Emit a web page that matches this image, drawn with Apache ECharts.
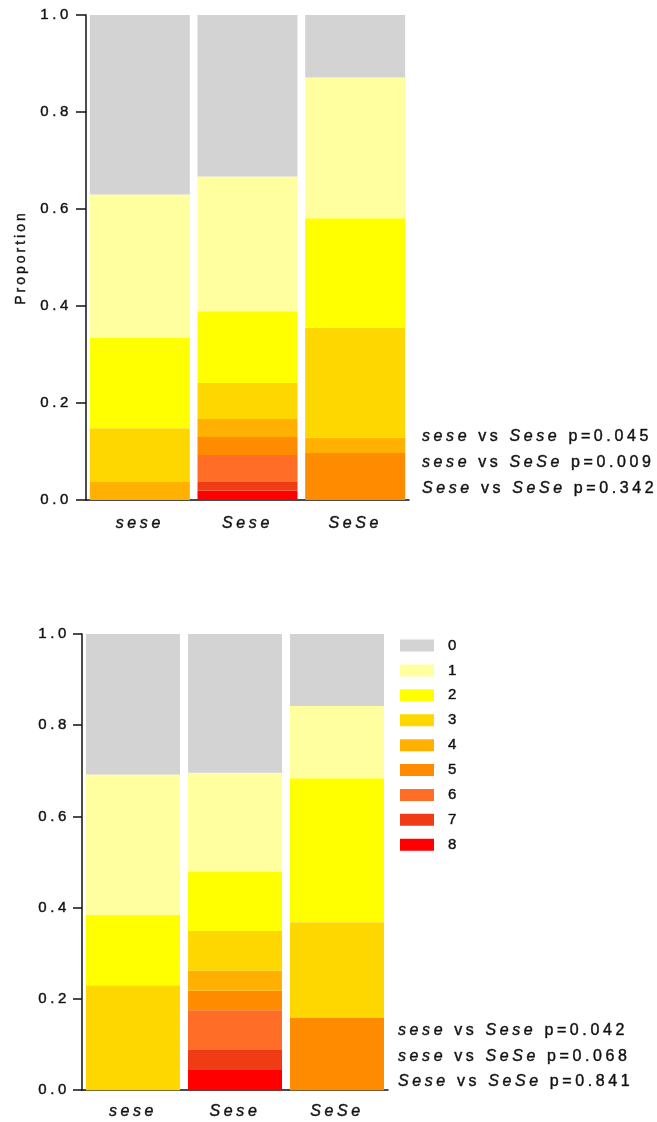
<!DOCTYPE html>
<html>
<head>
<meta charset="utf-8">
<script src="https://cdn.jsdelivr.net/npm/echarts@6/dist/echarts.min.js"></script>
<style>
  html, body { margin: 0; padding: 0; background: #fff; }
  #chart { width: 657px; height: 1122px; }
</style>
</head>
<body>
<div id="chart"></div>
<script>
// Genotype groups on the x axis
const genotypes = ['sese', 'Sese', 'SeSe'];
// Score levels (stack order: 0 on top, 8 at the bottom)
const levels = ['0', '1', '2', '3', '4', '5', '6', '7', '8'];
const levelColors = ['#D3D3D3', '#FFFF9F', '#FFFF00', '#FFD700', '#FFB000', '#FF8C00', '#FF6D27', '#F03C14', '#FF0000'];
const yTicks = [0, 0.2, 0.4, 0.6, 0.8, 1.0];

// Upper panel: proportion of each level per genotype (levels 0..8)
const upperSese_lc = [0.370, 0.296, 0.186, 0.111, 0.037, 0, 0, 0, 0];
const upperSese_het = [0.333, 0.278, 0.148, 0.074, 0.037, 0.037, 0.056, 0.018, 0.019];
const upperSeSe = [0.129, 0.290, 0.226, 0.226, 0.032, 0.097, 0, 0, 0];

// Lower panel
const lowerSese_lc = [0.308, 0.308, 0.154, 0.230, 0, 0, 0, 0, 0];
const lowerSese_het = [0.304, 0.217, 0.130, 0.087, 0.044, 0.043, 0.087, 0.044, 0.044];
const lowerSeSe = [0.158, 0.158, 0.316, 0.210, 0, 0.158, 0, 0, 0];

// Pairwise comparisons and p-values
const comparisons = [['sese', 'Sese'], ['sese', 'SeSe'], ['Sese', 'SeSe']];
const upperP = ['0.045', '0.009', '0.342'];
const lowerP = ['0.042', '0.068', '0.841'];

// Tracked-out lettering for all canvas text
(function () {
  const proto = CanvasRenderingContext2D.prototype;
  if (!('letterSpacing' in proto)) return;
  const spacingFor = function (font) {
    const m = /([\d.]+)px/.exec(font || '');
    const size = m ? parseFloat(m[1]) : 15;
    return size < 14.5 ? '3px' : '3.6px';
  };
  ['fillText', 'strokeText', 'measureText'].forEach(function (fn) {
    const orig = proto[fn];
    proto[fn] = function () {
      this.letterSpacing = spacingFor(this.font);
      return orig.apply(this, arguments);
    };
  });
})();

const FONT = 'Liberation Sans';
const TEXT = '#111';
const AXIS = '#111';
// slight outline in a dark grey to give the lettering more weight
const OUTLINE = '#444';
const OUTLINE_W = 0.5;
const INK = { textBorderColor: OUTLINE, textBorderWidth: OUTLINE_W };

const upperGroups = [upperSese_lc, upperSese_het, upperSeSe];
const lowerGroups = [lowerSese_lc, lowerSese_het, lowerSeSe];

function stackSeries(groups, idx, barWidth) {
  const out = [];
  for (let k = levels.length - 1; k >= 0; k--) {
    out.push({
      name: levels[k],
      type: 'bar',
      stack: 'panel' + idx,
      xAxisIndex: idx,
      yAxisIndex: idx,
      barWidth: barWidth,
      itemStyle: { color: levelColors[k] },
      data: groups.map(g => g[k])
    });
  }
  return out;
}

function yAxis(idx, gridIndex, extra) {
  return Object.assign({
    type: 'value',
    gridIndex: gridIndex,
    min: yTicks[0], max: yTicks[yTicks.length - 1], interval: 0.2,
    axisLine: { show: true, lineStyle: { color: AXIS, width: 1.5 } },
    axisTick: { show: true, length: idx === 0 ? 10 : 9, lineStyle: { color: AXIS, width: 1.5 } },
    splitLine: { show: false },
    axisLabel: Object.assign({
      margin: idx === 0 ? 14 : 12,
      color: TEXT, fontFamily: FONT, fontSize: 15,
      formatter: v => v.toFixed(1)
    }, INK)
  }, extra || {});
}

function xAxis(gridIndex, margin) {
  return {
    type: 'category',
    gridIndex: gridIndex,
    data: genotypes,
    axisLine: { show: true, lineStyle: { color: AXIS, width: 1.5 } },
    axisTick: { show: false },
    axisLabel: Object.assign({ margin: margin, color: TEXT, fontFamily: FONT, fontSize: 16, fontStyle: 'italic' }, INK)
  };
}

// zrender text style for the comparison lines (fill/stroke naming)
function tokenStyle(italic) {
  return {
    fontStyle: italic ? 'italic' : 'normal',
    fontFamily: FONT,
    fontSize: 16,
    fill: TEXT,
    stroke: OUTLINE,
    lineWidth: OUTLINE_W
  };
}

function pValueLines(x, y0, step, pvals) {
  return comparisons.map((c, i) => ({
    type: 'text',
    x: x,
    y: y0 + i * step,
    style: Object.assign(tokenStyle(false), {
      text: '{i|' + c[0] + '}{n| vs }{i|' + c[1] + '}{n| p=' + pvals[i] + '}',
      verticalAlign: 'middle',
      rich: { i: tokenStyle(true), n: tokenStyle(false) }
    })
  }));
}

const chart = echarts.init(document.getElementById('chart'), null, { renderer: 'canvas' });
chart.setOption({
  animation: false,
  backgroundColor: '#fff',
  grid: [
    { left: 86, top: 15, width: 323, height: 485 },
    { left: 82, top: 634, width: 306, height: 458 }
  ],
  xAxis: [xAxis(0, 14), xAxis(1, 12)],
  yAxis: [
    yAxis(0, 0, {
      name: 'Proportion',
      nameLocation: 'middle',
      nameRotate: 90,
      nameGap: 56,
      nameTextStyle: Object.assign({ color: TEXT, fontFamily: FONT, fontSize: 14 }, INK)
    }),
    yAxis(1, 1)
  ],
  legend: {
    orient: 'vertical',
    left: 400,
    top: 636,
    padding: 0,
    data: levels,
    icon: 'rect',
    itemWidth: 34,
    itemHeight: 12,
    itemGap: 5.8,
    selectedMode: false,
    textStyle: Object.assign({ color: TEXT, fontFamily: FONT, fontSize: 15, padding: [0, 0, 0, 9] }, INK)
  },
  series: stackSeries(upperGroups, 0, 100).concat(stackSeries(lowerGroups, 1, 94)),
  graphic: pValueLines(422, 437, 26, upperP).concat(pValueLines(398, 1031, 25.5, lowerP))
});
</script>
</body>
</html>
